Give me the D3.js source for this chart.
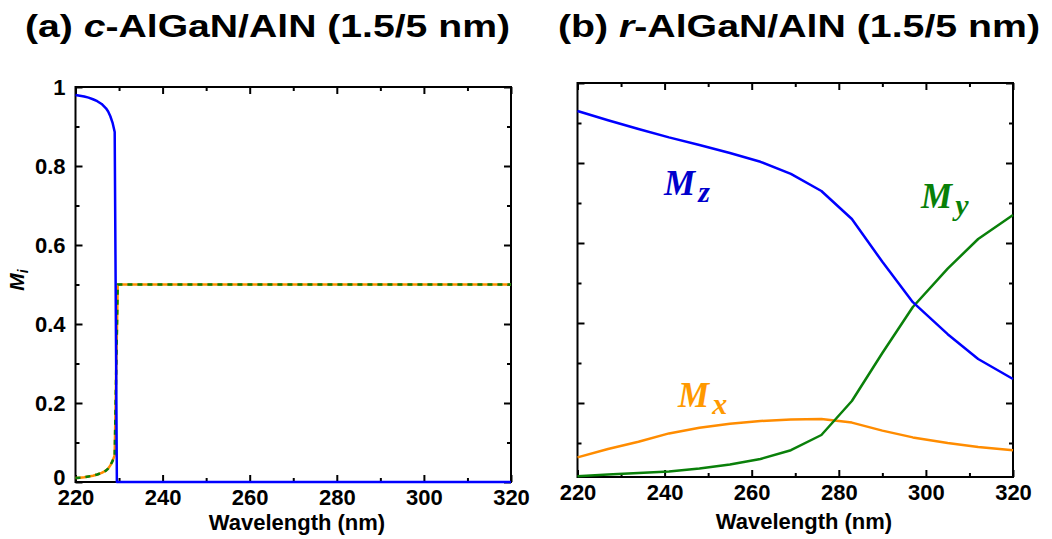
<!DOCTYPE html>
<html>
<head>
<meta charset="utf-8">
<script src="https://cdn.jsdelivr.net/npm/d3@7"></script>
<style>
  html, body { margin: 0; padding: 0; background: #fff; }
  svg { display: block; }
  text { font-family: "Liberation Sans", Arial, sans-serif; font-weight: bold; fill: #000; }
  .math { font-family: "Liberation Serif", "Times New Roman", serif; font-style: italic; font-weight: bold; }
</style>
</head>
<body>
<svg id="fig" width="1052" height="539"></svg>
<script>
// ---- axis ticks ----
const xMajor = [220, 240, 260, 280, 300, 320];
const xMajorLabels = ["220", "240", "260", "280", "300", "320"];
const xMinor = [230, 250, 270, 290, 310];
const yMajorA = [0, 0.2, 0.4, 0.6, 0.8, 1];
const yMajorLabelsA = ["0", "0.2", "0.4", "0.6", "0.8", "1"];
const yMinorA = [0.1, 0.3, 0.5, 0.7, 0.9];
const yMajorB = [0.2, 0.4, 0.6, 0.8, 1];
const yMinorB = [0.1, 0.3, 0.5, 0.7, 0.9];

// ---- (a) c-plane AlGaN/AlN ----
const waveC_Mz = [220, 221, 222, 223, 224, 225, 226, 227, 227.5, 228, 228.5, 229, 229.5, 320];
const c_Mz     = [0.980, 0.978, 0.976, 0.973, 0.969, 0.964, 0.957, 0.946, 0.938, 0.926, 0.910, 0.886, 0, 0];
const waveC_Mxy = [220, 221, 222, 223, 224, 225, 226, 227, 227.5, 228, 228.5, 229, 229.7, 320];
const c_Mx      = [0.010, 0.011, 0.012, 0.014, 0.016, 0.019, 0.023, 0.029, 0.034, 0.042, 0.053, 0.068, 0.5, 0.5];
const c_My      = [0.010, 0.011, 0.012, 0.014, 0.016, 0.019, 0.023, 0.029, 0.034, 0.042, 0.053, 0.068, 0.5, 0.5];

// ---- (b) r-plane AlGaN/AlN ----
const waveR = [220, 227, 234, 241, 248, 255, 262, 269, 276, 283, 290, 297, 305, 312, 320];
const r_Mz  = [0.930, 0.907, 0.885, 0.864, 0.845, 0.825, 0.803, 0.773, 0.730, 0.660, 0.553, 0.452, 0.372, 0.310, 0.260];
const r_My  = [0.017, 0.021, 0.025, 0.029, 0.036, 0.046, 0.060, 0.082, 0.120, 0.205, 0.325, 0.440, 0.536, 0.610, 0.670];
const r_Mx  = [0.064, 0.085, 0.103, 0.124, 0.138, 0.148, 0.155, 0.159, 0.160, 0.151, 0.131, 0.114, 0.100, 0.090, 0.082];

const BLUE = "#0000ff", GREEN = "#0a800a", ORANGE = "#ff8c00";

const svg = d3.select("#fig");

function frame(g, x, y, yMajor, yMajorLabels, yMinor, showYLabels) {
  const [x0, x1] = x.range();
  const [y0, y1] = y.range(); // y0 bottom, y1 top

  const addAxis = (axis, tx, ty, labelled) => {
    const a = g.append("g").attr("transform", `translate(${tx},${ty})`).call(axis);
    a.select(".domain").remove();
    a.selectAll(".tick line").attr("stroke", "#000").attr("stroke-width", 2);
    if (!labelled) a.selectAll(".tick text").remove();
    else a.selectAll(".tick text").style("font-size", "22px").attr("font-family", null);
    return a;
  };

  // bottom: labelled majors + minors
  addAxis(d3.axisBottom(x).tickValues(xMajor).tickSizeInner(-7).tickSizeOuter(0).tickPadding(7)
          .tickFormat((d, i) => xMajorLabels[i]), 0, y0, true);
  addAxis(d3.axisBottom(x).tickValues(xMinor).tickSizeInner(-4).tickSizeOuter(0), 0, y0, false);
  // top
  addAxis(d3.axisTop(x).tickValues(xMajor).tickSizeInner(-7).tickSizeOuter(0), 0, y1, false);
  addAxis(d3.axisTop(x).tickValues(xMinor).tickSizeInner(-4).tickSizeOuter(0), 0, y1, false);
  // left
  const left = addAxis(d3.axisLeft(y).tickValues(yMajor).tickSizeInner(-7).tickSizeOuter(0).tickPadding(10)
          .tickFormat((d, i) => yMajorLabels ? yMajorLabels[i] : ""), x0, 0, showYLabels);
  // the zero label sits just above the corner so it clears the first x label
  left.selectAll(".tick").filter(d => d === 0).select("text").attr("dy", "0.1em");
  addAxis(d3.axisLeft(y).tickValues(yMinor).tickSizeInner(-4).tickSizeOuter(0), x0, 0, false);
  // right
  addAxis(d3.axisRight(y).tickValues(yMajor).tickSizeInner(-7).tickSizeOuter(0), x1, 0, false);
  addAxis(d3.axisRight(y).tickValues(yMinor).tickSizeInner(-4).tickSizeOuter(0), x1, 0, false);

  g.append("rect")
    .attr("x", x0).attr("y", y1)
    .attr("width", x1 - x0).attr("height", y0 - y1)
    .attr("fill", "none").attr("stroke", "#000").attr("stroke-width", 2);
}

function curve(g, x, y, xs, ys, color, width, dash) {
  const line = d3.line().x((d, i) => x(xs[i])).y(d => y(d));
  g.append("path")
    .datum(ys)
    .attr("d", line)
    .attr("fill", "none")
    .attr("stroke", color)
    .attr("stroke-width", width)
    .attr("stroke-linejoin", "round")
    .attr("stroke-dasharray", dash || null);
}

// ================= panel (a) =================
const gA = svg.append("g");
const xA = d3.scaleLinear().domain([220, 320]).range([75.5, 511]);
const yA = d3.scaleLinear().domain([0, 1]).range([482, 87]);
frame(gA, xA, yA, yMajorA, yMajorLabelsA, yMinorA, true);

svg.append("defs").append("clipPath").attr("id", "clipA")
  .append("rect").attr("x", 74).attr("y", 80).attr("width", 440).attr("height", 405);
const plotA = gA.append("g").attr("clip-path", "url(#clipA)");
curve(plotA, xA, yA, waveC_Mxy, c_Mx, ORANGE, 2.5);
curve(plotA, xA, yA, waveC_Mxy, c_My, GREEN, 2.5, "5,5");
curve(plotA, xA, yA, waveC_Mz, c_Mz, BLUE, 2.5);

// y label M_i
gA.append("text")
  .attr("transform", "translate(24,280) rotate(-90)")
  .attr("text-anchor", "middle")
  .style("font-size", "21px")
  .call(t => {
    t.append("tspan").style("font-style", "italic").text("M");
    t.append("tspan").style("font-style", "italic").style("font-size", "14px").attr("dy", 4).text("i");
  });

gA.append("text")
  .attr("x", 297).attr("y", 530)
  .attr("text-anchor", "middle")
  .style("font-size", "22px")
  .text("Wavelength (nm)");

gA.append("text")
  .attr("x", 267.5).attr("y", 37)
  .attr("text-anchor", "middle")
  .attr("textLength", 485).attr("lengthAdjust", "spacingAndGlyphs")
  .style("font-size", "32px")
  .call(t => {
    t.append("tspan").text("(a) ");
    t.append("tspan").style("font-style", "italic").text("c");
    t.append("tspan").text("-AlGaN/AlN (1.5/5 nm)");
  });

// ================= panel (b) =================
const gB = svg.append("g");
const xB = d3.scaleLinear().domain([220, 320]).range([577.5, 1013]);
const yB = d3.scaleLinear().domain([0.015, 1]).range([477, 83]);
frame(gB, xB, yB, yMajorB, null, yMinorB, false);

curve(gB, xB, yB, waveR, r_Mx, ORANGE, 2.5);
curve(gB, xB, yB, waveR, r_My, GREEN, 2.5);
curve(gB, xB, yB, waveR, r_Mz, BLUE, 2.5);

function mathLabel(g, x, y, sub, color) {
  g.append("text").attr("class", "math")
    .attr("x", x).attr("y", y)
    .style("font-size", "35px").style("fill", color)
    .call(t => {
      t.append("tspan").text("M");
      t.append("tspan").attr("dx", 3).attr("dy", 7).style("font-size", "30px").text(sub);
    });
}
mathLabel(gB, 664, 195, "z", "#0000cc");
mathLabel(gB, 921, 208, "y", "#088008");
mathLabel(gB, 678, 407, "x", "#ff9900");

gB.append("text")
  .attr("x", 804).attr("y", 529)
  .attr("text-anchor", "middle")
  .style("font-size", "22px")
  .text("Wavelength (nm)");

gB.append("text")
  .attr("x", 799).attr("y", 37)
  .attr("text-anchor", "middle")
  .attr("textLength", 482).attr("lengthAdjust", "spacingAndGlyphs")
  .style("font-size", "32px")
  .call(t => {
    t.append("tspan").text("(b) ");
    t.append("tspan").style("font-style", "italic").text("r");
    t.append("tspan").text("-AlGaN/AlN (1.5/5 nm)");
  });
</script>
</body>
</html>
